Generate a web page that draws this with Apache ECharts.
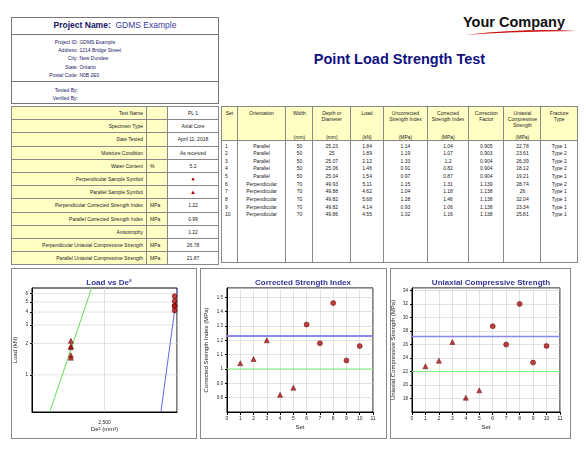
<!DOCTYPE html>
<html><head><meta charset="utf-8">
<script src="https://cdn.jsdelivr.net/npm/echarts@6/dist/echarts.min.js"></script>
<style>
body{margin:0;width:586px;height:450px;background:#fff;font-family:"Liberation Sans",Arial,sans-serif;position:relative;overflow:hidden}
.abs{position:absolute}
table{border-collapse:collapse;font-size:5px;color:#222}
td{padding:0 3px;white-space:nowrap}
.box{position:absolute;border:1.5px solid #888;box-sizing:border-box}
#c{position:absolute;left:0;top:0;width:586px;height:450px}
</style></head><body>
<div class="box" style="left:11px;top:17px;width:208px;height:87px;border-color:#777"></div>
<div class="abs" style="left:11px;top:34px;width:208px;border-top:1px solid #777"></div>
<div class="abs" style="left:11px;top:81px;width:208px;border-top:1px solid #777"></div>
<div class="abs" style="left:11px;top:20px;width:208px;text-align:center;font-size:8.5px;color:#222288"><b style="color:#141466">Project Name:</b>&nbsp; <span style="color:#3a3aa0">GDMS Example</span></div>
<div class="abs" id="info" style="left:11px;top:38px;font-size:5px;color:#222266;line-height:8.2px"></div>
<div class="abs" style="left:463px;top:14px;font-size:14.5px;font-weight:bold;color:#111">Your Company</div>
<svg class="abs" style="left:455px;top:28px" width="125" height="10"><path d="M10 7 Q70 0 122 3 Q70 3 10 7Z" fill="#cc1111"/></svg>
<div class="abs" style="left:221px;top:51px;width:357px;text-align:center;font-size:14.5px;font-weight:bold;color:#101080">Point Load Strength Test</div>
<table id="lt" class="abs" style="left:11px;top:106px;width:208px"></table>
<table id="rt" class="abs" style="left:221px;top:106px;width:357px"></table>
<div class="box" style="left:11px;top:268px;width:186px;height:171px"></div>
<div class="box" style="left:200px;top:268px;width:187px;height:171px"></div>
<div class="box" style="left:390px;top:268px;width:181px;height:171px"></div>
<div id="c"></div>
<script>
const sets=[1,2,3,4,5,6,7,8,9,10];
const orientation=["Parallel","Parallel","Parallel","Parallel","Parallel","Perpendicular","Perpendicular","Perpendicular","Perpendicular","Perpendicular"];
const width=[50,50,50,50,50,70,70,70,70,70];
const depth=[25.23,25,25.07,25.06,25.04,49.93,49.88,49.82,49.82,49.86];
const load=[1.84,1.89,2.12,1.46,1.54,5.11,4.62,5.68,4.14,4.55];
const uncorrSI=[1.14,1.19,1.33,0.91,0.97,1.15,1.04,1.28,0.93,1.02];
const corrSI=[1.04,1.07,1.2,0.82,0.87,1.31,1.18,1.46,1.06,1.16];
const corrFactor=[0.905,0.903,0.904,0.904,0.904,1.139,1.138,1.138,1.138,1.138];
const ucs=[22.78,23.61,26.39,18.12,19.21,28.74,26,32.04,23.34,25.81];
const fracture=["Type 1","Type 2","Type 2","Type 2","Type 1","Type 2","Type 1","Type 1","Type 1","Type 1"];
const deSq=[1340,1340,1340,1340,1340,4920,4920,4920,4920,4920];
const greenLoadLine=[[612,0.44],[2055,6.8]];
const blueLoadLine=[[4446,0.44],[5023,6.8]];
const csiLines={perp:1.23,par:1.0};
const ucsLines={perp:27.2,par:22.0};
const loadTicks=[1,2,3,4,5,6];
const infoLabels=["Project ID:","Address:","City:","State:","Postal Code:"];
const infoValues=["GDMS Example","1214 Bridge Street","New Dundee","Ontario","N0B 2E0"];
const leftRows=[["Test Name","","PL 1"],["Specimen Type","","Axial Core"],["Date Tested","","April 11, 2018"],["Moisture Condition","","As received"],["Water Content","%","5.2"],["Perpendicular Sample Symbol","","●"],["Parallel Sample Symbol","","▲"],["Perpendicular Corrected Strength Index","MPa","1.22"],["Parallel Corrected Strength Index","MPa","0.99"],["Anisotrophy","","1.22"],["Perpendicular Uniaxial Compressive Strength","MPa","26.78"],["Parallel Uniaxial Compressive Strength","MPa","21.87"]];
const headers=[["Set",""],["Orientation",""],["Width","(mm)"],["Depth or<br>Diameter","(mm)"],["Load","(kN)"],["Uncorrected<br>Strength Index","(MPa)"],["Corrected<br>Strength Index","(MPa)"],["Correction<br>Factor",""],["Uniaxial<br>Compressive<br>Strength","(MPa)"],["Fracture<br>Type",""]];
const colW=[15,49,27,38,34,44,42,35,36,37];

let h='';infoLabels.forEach((l,i)=>{h+=`<div><span style="display:inline-block;width:67px;text-align:right">${l}</span> ${infoValues[i]}</div>`});
h+=`<div style="height:7px"></div><div><span style="display:inline-block;width:67px;text-align:right">Tested By:</span></div><div><span style="display:inline-block;width:67px;text-align:right">Verified By:</span></div>`;
document.getElementById('info').innerHTML=h;
let lt='';leftRows.forEach(r=>{let v=r[2];if(v==='●'||v==='▲')v=`<span style="color:#b00000;font-size:6px">${v}</span>`;
lt+=`<tr style="height:13.2px"><td style="background:#ffffc4;border:1px solid #888;text-align:right;width:128px">${r[0]}</td><td style="background:#ffffc4;border:1px solid #888;width:14px">${r[1]}</td><td style="border:1px solid #888;text-align:center">${v}</td></tr>`});
document.getElementById('lt').innerHTML=lt;
let rt='<tr style="height:27px">';headers.forEach((c,i)=>rt+=`<td style="background:#ffffc4;border:1px solid #888;border-bottom:none;text-align:center;vertical-align:top;padding-top:3px;width:${colW[i]-6}px;white-space:normal">${c[0]}</td>`);
rt+='</tr><tr style="height:7px">';headers.forEach(c=>rt+=`<td style="background:#ffffc4;border:1px solid #888;border-top:none;text-align:center">${c[1]}</td>`);rt+='</tr>';
sets.forEach((s,i)=>{const row=[s,orientation[i],width[i],depth[i],load[i],uncorrSI[i],corrSI[i],corrFactor[i],ucs[i],fracture[i]];
rt+='<tr style="height:7.7px">';row.forEach((v,j)=>rt+=`<td style="border-left:1px solid #888;border-right:1px solid #888;text-align:${j==0?'left':'center'};${i==0?'padding-top:2px':''}">${v}</td>`);rt+='</tr>'});
rt+='<tr style="height:44px">'+colW.map(()=>'<td style="border-left:1px solid #888;border-right:1px solid #888;border-bottom:1px solid #888"></td>').join('')+'</tr>';
document.getElementById('rt').innerHTML=rt;

const red='#b01010';
function mk(i){return i<5?'triangle':'circle'}
const ptStyle={color:red,borderColor:'#550000',borderWidth:0.6};
const gridLine={show:true,lineStyle:{color:'#cfcfcf',width:0.6}};
const axLine={show:true,lineStyle:{color:'#000',width:1}};
const lab={fontSize:4.5,color:'#222'};
const nameSty={fontSize:6,color:'#222'};
function hline(xi,y,color,w){return {type:'line',xAxisIndex:xi,yAxisIndex:xi,data:[[0,y],[11,y]],symbol:'none',lineStyle:{color:color,width:w},z:1}}
function logGrid(y){return {type:'line',xAxisIndex:0,yAxisIndex:0,data:[[0,y],[5000,y]],symbol:'none',lineStyle:{color:'#cfcfcf',width:0.6},z:0,silent:true}}
const chart=echarts.init(document.getElementById('c'),null,{renderer:'canvas'});
chart.setOption({
 animation:false,
 title:[
  {text:'Load vs De²',left:104,top:274,textAlign:'center',textStyle:{fontSize:8,fontWeight:'bold',color:'#353599'}},
  {text:'Corrected Strength Index',left:298,top:274,textAlign:'center',textStyle:{fontSize:8,fontWeight:'bold',color:'#353599'}},
  {text:'Uniaxial Compressive Strength',left:486,top:274,textAlign:'center',textStyle:{fontSize:8,fontWeight:'bold',color:'#353599'}}],
 grid:[{left:32,top:288,width:145,height:124,show:true,borderColor:'#000',borderWidth:1},
       {left:227,top:288,width:146,height:124,show:true,borderColor:'#000',borderWidth:1},
       {left:412,top:288,width:148,height:124,show:true,borderColor:'#000',borderWidth:1}],
 xAxis:[
  {gridIndex:0,type:'value',min:0,max:5000,interval:2500,name:'De² (mm²)',nameLocation:'middle',nameGap:12,nameTextStyle:nameSty,axisLine:axLine,axisTick:{show:false},splitLine:gridLine,
   axisLabel:Object.assign({},lab,{showMinLabel:false,showMaxLabel:false,formatter:v=>v.toLocaleString('en-US'),fontSize:5})},
  {gridIndex:1,type:'value',min:0,max:11,interval:1,name:'Set',nameLocation:'middle',nameGap:12,nameTextStyle:nameSty,axisLine:axLine,axisTick:{show:true,length:3},splitLine:gridLine,axisLabel:Object.assign({},lab,{fontSize:5,margin:4})},
  {gridIndex:2,type:'value',min:0,max:11,interval:1,name:'Set',nameLocation:'middle',nameGap:12,nameTextStyle:nameSty,axisLine:axLine,axisTick:{show:true,length:3},splitLine:gridLine,axisLabel:Object.assign({},lab,{fontSize:5,margin:4})}],
 yAxis:[
  {gridIndex:0,type:'log',min:0.44,max:6.8,name:'Load (kN)',nameLocation:'middle',nameGap:14,nameTextStyle:nameSty,axisLine:axLine,
   axisTick:{show:true,length:2,customValues:loadTicks},splitLine:{show:false},axisLabel:Object.assign({},lab,{customValues:loadTicks,margin:4})},
  {gridIndex:1,type:'value',min:0.7,max:1.565,interval:0.1,name:'Corrected Strength Index (MPa)',nameLocation:'middle',nameGap:18,nameTextStyle:nameSty,axisLine:axLine,axisTick:{show:true,length:2},splitLine:gridLine,
   axisLabel:Object.assign({},lab,{showMinLabel:false,showMaxLabel:false,formatter:v=>String(+v.toFixed(1)),margin:4})},
  {gridIndex:2,type:'value',min:16,max:34.4,interval:2,name:'Uniaxial Compressive Strength (MPa)',nameLocation:'middle',nameGap:16,nameTextStyle:nameSty,axisLine:axLine,axisTick:{show:true,length:2},splitLine:gridLine,
   axisLabel:Object.assign({},lab,{showMinLabel:false,showMaxLabel:false,margin:4})}],
 series:[
  ...loadTicks.map(logGrid),
  {type:'line',xAxisIndex:0,yAxisIndex:0,data:greenLoadLine,symbol:'none',lineStyle:{color:'#66dd55',width:1}},
  {type:'line',xAxisIndex:0,yAxisIndex:0,data:blueLoadLine,symbol:'none',lineStyle:{color:'#6666dd',width:1}},
  {type:'scatter',xAxisIndex:0,yAxisIndex:0,data:load.map((v,i)=>({value:[deSq[i],v],symbol:mk(i)})),symbolSize:5,itemStyle:ptStyle,z:3},
  hline(1,csiLines.perp,'#8888ee',2),hline(1,csiLines.par,'#77ee77',1),
  {type:'scatter',xAxisIndex:1,yAxisIndex:1,data:corrSI.map((v,i)=>({value:[sets[i],v],symbol:mk(i)})),symbolSize:5,itemStyle:ptStyle,z:3},
  hline(2,ucsLines.perp,'#8888ee',1.5),hline(2,ucsLines.par,'#77ee77',1),
  {type:'scatter',xAxisIndex:2,yAxisIndex:2,data:ucs.map((v,i)=>({value:[sets[i],v],symbol:mk(i)})),symbolSize:5,itemStyle:ptStyle,z:3}]
});
</script></body></html>
